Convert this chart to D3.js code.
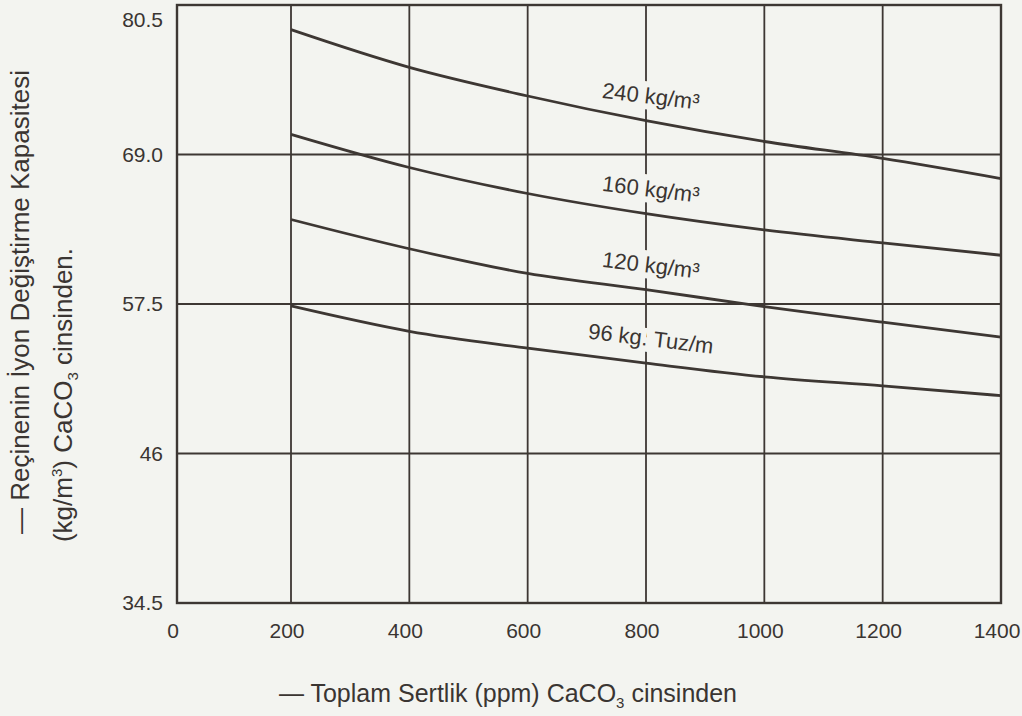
<!DOCTYPE html>
<html>
<head>
<meta charset="utf-8">
<script src="https://cdn.jsdelivr.net/npm/d3@7"></script>
<style>
  html, body { margin: 0; padding: 0; background: #f3f4f0; }
  svg { display: block; }
  text { font-family: "Liberation Sans", Arial, sans-serif; fill: #3a3532; }
</style>
</head>
<body>
<div id="chart"></div>
<script>
// hardness values (ppm CaCO3) read at every grid line
var hardness = [200, 400, 600, 800, 1000, 1200, 1400];

// capacity, (kg/m3) as CaCO3, one array per salt dose
var salt240 = [78.6, 75.7, 73.5, 71.6, 70.0, 68.7, 67.15];
var salt160 = [70.55, 68.0, 66.0, 64.45, 63.2, 62.2, 61.25];
var salt120 = [64.0, 61.75, 59.85, 58.6, 57.3, 56.1, 54.95];
var salt96 = [57.35, 55.4, 54.1, 52.95, 51.9, 51.2, 50.45];

var seriesLabels = ["240 kg/m³", "160 kg/m³", "120 kg/m³", "96 kg. Tuz/m"];

var xTicks = [0, 200, 400, 600, 800, 1000, 1200, 1400];
var yTicks = [34.5, 46, 57.5, 69.0, 80.5];
var yTickLabels = ["34.5", "46", "57.5", "69.0", "80.5"];

var width = 1022, height = 716;
var ink = "#3d3733";
var paper = "#f3f4f0";

var svg = d3.select("#chart").append("svg")
  .attr("width", width).attr("height", height);

svg.append("rect").attr("width", width).attr("height", height).attr("fill", paper);

// the printed axis is a little squeezed between 0 and 200
var x = d3.scaleLinear().domain([0, 200, 1400]).range([177, 291, 1001]);
var y = d3.scaleLinear().domain([34.5, 80.5]).range([603, 5]);

var series = [salt240, salt160, salt120, salt96].map(function(vals, i) {
  return {
    label: seriesLabels[i],
    points: vals.map(function(v, j) { return [hardness[j], v]; })
  };
});

// horizontal grid lines
svg.append("g").selectAll("line").data(yTicks).enter().append("line")
  .attr("x1", x(0)).attr("x2", x(1400))
  .attr("y1", function(d) { return y(d); })
  .attr("y2", function(d) { return y(d); })
  .attr("stroke", ink).attr("stroke-width", 1.8);

// vertical grid lines
svg.append("g").selectAll("line").data(xTicks).enter().append("line")
  .attr("x1", function(d) { return x(d); })
  .attr("x2", function(d) { return x(d); })
  .attr("y1", y(80.5)).attr("y2", y(34.5))
  .attr("stroke", ink).attr("stroke-width", 1.8);

// frame
svg.append("rect")
  .attr("x", x(0)).attr("y", y(80.5))
  .attr("width", x(1400) - x(0)).attr("height", y(34.5) - y(80.5))
  .attr("fill", "none").attr("stroke", ink).attr("stroke-width", 2.4);

var line = d3.line()
  .x(function(d) { return x(d[0]); })
  .y(function(d) { return y(d[1]); })
  .curve(d3.curveMonotoneX);

svg.append("g").selectAll("path").data(series).enter().append("path")
  .attr("d", function(d) { return line(d.points); })
  .attr("fill", "none").attr("stroke", ink).attr("stroke-width", 2.8);

// curve labels sit above each curve at 800 ppm, with a paper halo that
// breaks the 800 grid line the way the print does
svg.append("g").selectAll("text").data(series).enter().append("text")
  .attr("transform", function(d) {
    var v = d.points[3][1];
    return "translate(" + (x(800) + 4) + "," + (y(v) - 17) + ") rotate(7)";
  })
  .attr("text-anchor", "middle")
  .attr("font-size", 22)
  .attr("stroke", paper).attr("stroke-width", 12)
  .attr("paint-order", "stroke")
  .text(function(d) { return d.label; });

// x tick labels
svg.append("g").selectAll("text").data(xTicks).enter().append("text")
  .attr("x", function(d) { return x(d) - 4; })
  .attr("y", 638)
  .attr("text-anchor", "middle")
  .attr("font-size", 21)
  .text(function(d) { return d; });

// y tick labels
svg.append("g").selectAll("text").data(yTicks).enter().append("text")
  .attr("x", 163)
  .attr("y", function(d) { return Math.max(y(d), 20); })
  .attr("dy", "0.35em")
  .attr("text-anchor", "end")
  .attr("font-size", 21)
  .text(function(d, i) { return yTickLabels[i]; });

// x axis title
var xt = svg.append("text")
  .attr("x", 508).attr("y", 702)
  .attr("text-anchor", "middle")
  .attr("font-size", 25);
xt.append("tspan").text("— Toplam Sertlik (ppm) CaCO");
xt.append("tspan").attr("font-size", 15).attr("dy", 6).text("3");
xt.append("tspan").attr("dy", -6).text(" cinsinden");

// y axis title, two lines
svg.append("text")
  .attr("transform", "translate(29,302) rotate(-90)")
  .attr("text-anchor", "middle")
  .attr("font-size", 26)
  .text("— Reçinenin İyon Değiştirme Kapasitesi");

var yt = svg.append("text")
  .attr("transform", "translate(72,395) rotate(-90)")
  .attr("text-anchor", "middle")
  .attr("font-size", 26);
yt.append("tspan").text("(kg/m");
yt.append("tspan").attr("font-size", 15).attr("dy", -10).text("3");
yt.append("tspan").attr("dy", 10).text(") CaCO");
yt.append("tspan").attr("font-size", 15).attr("dy", 6).text("3");
yt.append("tspan").attr("dy", -6).text(" cinsinden.");
</script>
</body>
</html>
